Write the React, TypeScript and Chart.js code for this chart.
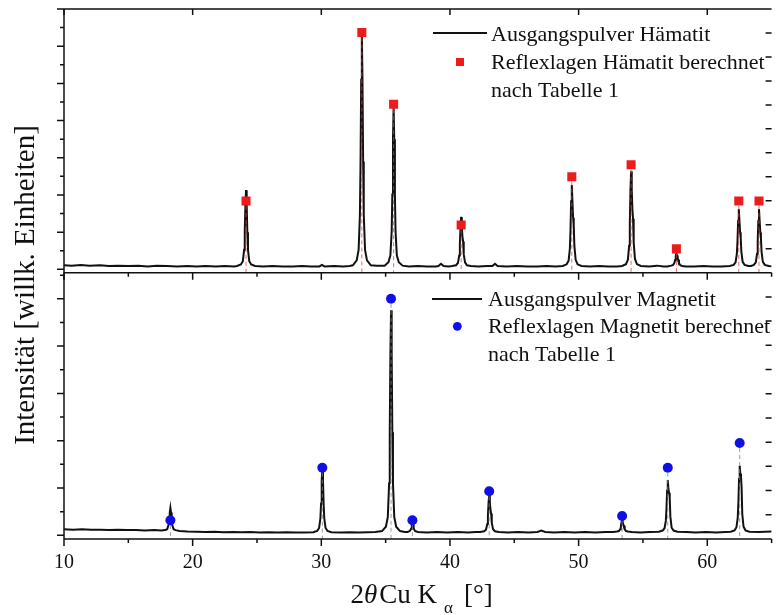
import React, { useEffect, useRef } from 'react';
import { Chart, registerables } from 'chart.js';

Chart.register(...registerables);

// ---------- data ----------
const xTickValues = [10, 20, 30, 40, 50, 60];

// measured pattern, Ausgangspulver Hämatit: [2θ, intensity]
const hematitePattern: [number, number][] = [
  [10, 0.11], [10.6, 0.10], [11.3, 0.12], [12, 0.10], [12.8, 0.11], [13.5, 0.09], [14.2, 0.10], [15, 0.09], [15.8, 0.10], [16.5, 0.08], [17.2, 0.10], [18, 0.09], [18.8, 0.08], [19.6, 0.09], [20.3, 0.08], [21, 0.09], [21.8, 0.08], [22.5, 0.09], [23.2, 0.08],
  [23.45, 0.09], [23.75, 0.13], [23.9, 0.22], [24.0, 0.53], [24.05, 1.0], [24.1, 1.72], [24.15, 2.13], [24.2, 1.72], [24.25, 1.0], [24.3, 0.53], [24.4, 0.22], [24.55, 0.13], [24.85, 0.09],
  [25.5, 0.08], [26.2, 0.09], [27, 0.08], [27.8, 0.08], [28.5, 0.09], [29.2, 0.08], [29.85, 0.08], [30.05, 0.12], [30.25, 0.08], [31, 0.09], [31.7, 0.08], [32.2, 0.09],
  [32.45, 0.11], [32.75, 0.24], [32.9, 0.52], [33.0, 1.46], [33.05, 2.9], [33.1, 5.1], [33.15, 6.35], [33.2, 5.1], [33.25, 2.9], [33.3, 1.46], [33.4, 0.52], [33.55, 0.24], [33.85, 0.11],
  [34.3, 0.10],
  [34.92, 0.10], [35.22, 0.19], [35.37, 0.38], [35.47, 1.02], [35.52, 2.01], [35.57, 3.5], [35.62, 4.36], [35.67, 3.5], [35.72, 2.01], [35.77, 1.02], [35.87, 0.38], [36.02, 0.19], [36.32, 0.10],
  [36.8, 0.08], [37.5, 0.09], [38.2, 0.08], [38.9, 0.08], [39.1, 0.09], [39.3, 0.15], [39.5, 0.09], [39.9, 0.08],
  [40.17, 0.09], [40.47, 0.11], [40.62, 0.17], [40.72, 0.37], [40.77, 0.68], [40.82, 1.14], [40.87, 1.41], [40.92, 1.14], [40.97, 0.88], [41.02, 0.75], [41.07, 0.41], [41.17, 0.19], [41.32, 0.11], [41.62, 0.09],
  [42.2, 0.08], [42.9, 0.09], [43.3, 0.09], [43.5, 0.15], [43.7, 0.09], [44.4, 0.08], [45.2, 0.09], [46, 0.08], [46.8, 0.08], [47.5, 0.09], [48.2, 0.08],
  [48.77, 0.09], [49.07, 0.135], [49.22, 0.23], [49.32, 0.56], [49.37, 1.07], [49.42, 1.83], [49.47, 2.27], [49.52, 1.83], [49.57, 1.39], [49.62, 1.18], [49.67, 0.63], [49.77, 0.255], [49.92, 0.135], [50.22, 0.09],
  [50.9, 0.08], [51.6, 0.09], [52.3, 0.08], [53.0, 0.08],
  [53.38, 0.09], [53.68, 0.14], [53.83, 0.26], [53.93, 0.64], [53.98, 1.23], [54.03, 2.13], [54.08, 2.64], [54.13, 2.13], [54.18, 1.62], [54.23, 1.36], [54.28, 0.72], [54.38, 0.28], [54.53, 0.14], [54.83, 0.09],
  [55.5, 0.08], [56.1, 0.10], [56.6, 0.08],
  [56.9, 0.08], [57.2, 0.10], [57.35, 0.12], [57.45, 0.18], [57.5, 0.25], [57.55, 0.36], [57.6, 0.43], [57.65, 0.37], [57.7, 0.30], [57.75, 0.26], [57.8, 0.17], [57.9, 0.11], [58.05, 0.09], [58.35, 0.08],
  [59, 0.08], [59.7, 0.09], [60.4, 0.08], [61.1, 0.08],
  [61.75, 0.09], [62.05, 0.12], [62.2, 0.19], [62.3, 0.42], [62.35, 0.77], [62.4, 1.31], [62.45, 1.62], [62.5, 1.31], [62.55, 1.0], [62.6, 0.85], [62.65, 0.47], [62.75, 0.2], [62.9, 0.12], [63.2, 0.09],
  [63.4, 0.09], [63.62, 0.12], [63.77, 0.19], [63.87, 0.42], [63.92, 0.77], [63.97, 1.31], [64.02, 1.62], [64.07, 1.31], [64.12, 1.0], [64.17, 0.85], [64.22, 0.47], [64.32, 0.2], [64.47, 0.12], [64.77, 0.09], [65, 0.08],
];

// calculated reflex positions, Hämatit
const hematiteRefPos = [24.15, 33.15, 35.62, 40.87, 49.47, 54.08, 57.6, 62.45, 64.02];
const hematiteRefInt = [1.84, 6.37, 4.44, 1.19, 2.49, 2.81, 0.55, 1.84, 1.84];

// measured pattern, Ausgangspulver Magnetit: [2θ, intensity]
const magnetitePattern: [number, number][] = [
  [10, 0.13], [10.7, 0.12], [11.4, 0.13], [12.1, 0.12], [12.8, 0.12], [13.5, 0.11], [14.2, 0.12], [14.9, 0.11], [15.6, 0.11], [16.3, 0.10], [17.0, 0.11],
  [17.57, 0.10], [17.87, 0.11], [18.02, 0.13], [18.12, 0.21], [18.17, 0.32], [18.22, 0.48], [18.27, 0.58], [18.32, 0.48], [18.37, 0.32], [18.42, 0.21], [18.52, 0.13], [18.67, 0.11], [18.97, 0.09],
  [19.6, 0.08], [20.3, 0.075], [21, 0.07], [21.7, 0.075], [22.4, 0.065], [23.1, 0.07], [23.8, 0.065], [24.5, 0.07], [25.2, 0.06], [25.9, 0.065], [26.6, 0.06], [27.3, 0.065], [28, 0.06], [28.7, 0.06],
  [29.38, 0.065], [29.68, 0.095], [29.83, 0.155], [29.93, 0.36], [29.98, 0.67], [30.03, 1.15], [30.08, 1.42], [30.13, 1.15], [30.18, 0.67], [30.23, 0.36], [30.33, 0.155], [30.48, 0.095], [30.78, 0.065],
  [31.5, 0.06], [32.2, 0.065], [32.9, 0.06], [33.6, 0.065], [34.2, 0.07],
  [34.72, 0.09], [35.02, 0.18], [35.17, 0.39], [35.27, 1.1], [35.32, 2.18], [35.37, 3.83], [35.42, 4.76], [35.47, 3.83], [35.52, 2.18], [35.57, 1.1], [35.67, 0.39], [35.82, 0.18], [36.12, 0.09],
  [36.5, 0.07], [36.7, 0.07], [36.88, 0.09], [36.98, 0.14], [37.03, 0.22], [37.08, 0.29], [37.13, 0.23], [37.18, 0.15], [37.28, 0.09], [37.5, 0.07],
  [38.2, 0.06], [39, 0.07], [39.8, 0.06], [40.6, 0.07], [41.4, 0.06], [42.0, 0.07],
  [42.35, 0.07], [42.65, 0.085], [42.8, 0.12], [42.9, 0.24], [42.95, 0.42], [43.0, 0.69], [43.05, 0.85], [43.1, 0.69], [43.15, 0.54], [43.2, 0.46], [43.25, 0.26], [43.35, 0.13], [43.5, 0.085], [43.8, 0.07],
  [44.5, 0.06], [45.3, 0.07], [46.1, 0.06], [46.8, 0.07], [47.1, 0.10], [47.4, 0.07], [48.1, 0.06], [48.9, 0.07], [49.7, 0.06], [50.5, 0.07], [51.3, 0.06], [52.1, 0.07],
  [52.68, 0.07], [52.98, 0.08], [53.13, 0.09], [53.23, 0.13], [53.28, 0.18], [53.33, 0.27], [53.38, 0.32], [53.43, 0.27], [53.48, 0.22], [53.53, 0.2], [53.58, 0.13], [53.68, 0.09], [53.83, 0.08], [54.13, 0.07],
  [54.8, 0.06], [55.5, 0.07],
  [56.23, 0.075], [56.53, 0.10], [56.68, 0.15], [56.78, 0.31], [56.83, 0.57], [56.88, 0.95], [56.93, 1.17], [56.98, 0.98], [57.03, 0.90], [57.08, 0.80], [57.13, 0.40], [57.23, 0.16], [57.38, 0.10], [57.68, 0.075],
  [58.4, 0.07], [59.1, 0.06], [59.9, 0.07], [60.7, 0.06], [61.4, 0.07],
  [61.82, 0.075], [62.12, 0.105], [62.27, 0.17], [62.37, 0.38], [62.42, 0.70], [62.47, 1.19], [62.52, 1.47], [62.57, 1.30], [62.62, 1.24], [62.67, 1.0], [62.72, 0.45], [62.82, 0.18], [62.97, 0.105], [63.27, 0.075],
  [64, 0.07], [65, 0.08],
];

// calculated reflex positions, Magnetit
const magnetiteRefPos = [18.27, 30.08, 35.42, 37.08, 43.05, 53.38, 56.93, 62.52];
const magnetiteRefInt = [0.32, 1.43, 5.0, 0.32, 0.93, 0.41, 1.43, 1.95];

const legendTop = ['Ausgangspulver Hämatit', 'Reflexlagen Hämatit berechnet', 'nach Tabelle 1'];
const legendBottom = ['Ausgangspulver Magnetit', 'Reflexlagen Magnetit berechnet', 'nach Tabelle 1'];
const yTitle = 'Intensität [willk. Einheiten]';

// ---------- axes / panel setup ----------
const X_MIN = 10;
const X_MAX = 65;
const TOP_MIN = -7.25;
const TOP_MAX = 7;
const TOP_SPLIT = -0.09; // lower edge of upper panel (in upper-panel units)
const BOT_MIN = -0.078;
const BOT_MAX = 11.127;
const TOP_MAJOR = [0, 1, 2, 3, 4, 5, 6, 7];
const TOP_MINOR = [0.5, 1.5, 2.5, 3.5, 4.5, 5.5, 6.5];
const BOT_MAJOR = [0, 1, 2, 3, 4, 5];
const BOT_MINOR = [0.5, 1.5, 2.5, 3.5, 4.5, 5.5];
const X_MINOR = [15, 25, 35, 45, 55, 65];

const FONT = '"Liberation Serif", "Times New Roman", serif';
const RED = '#ec1c1c';
const BLUE = '#1010e6';

const panelPlugin = {
  id: 'panelPlugin',
  afterDatasetsDraw(chart: any) {
    const { ctx, scales, chartArea } = chart;
    const xs = scales.x, yT = scales.yTop, yB = scales.yBot;
    const split = yT.getPixelForValue(TOP_SPLIT);
    ctx.save();
    ctx.lineWidth = 1;
    ctx.setLineDash([4, 3]);
    ctx.strokeStyle = 'rgba(225,60,60,0.75)';
    hematiteRefPos.forEach((p, i) => {
      const px = xs.getPixelForValue(p);
      ctx.beginPath();
      ctx.moveTo(px, yT.getPixelForValue(hematiteRefInt[i]) + 5);
      ctx.lineTo(px, split);
      ctx.stroke();
    });
    ctx.strokeStyle = 'rgba(130,130,130,0.8)';
    magnetiteRefPos.forEach((p, i) => {
      const px = xs.getPixelForValue(p);
      ctx.beginPath();
      ctx.moveTo(px, yB.getPixelForValue(magnetiteRefInt[i]) + 5);
      ctx.lineTo(px, chartArea.bottom);
      ctx.stroke();
    });
    ctx.restore();
  },
  afterDraw(chart: any) {
    const { ctx, scales, chartArea } = chart;
    const xs = scales.x, yT = scales.yTop, yB = scales.yBot;
    const L = chartArea.left, R = chartArea.right, T = chartArea.top, B = chartArea.bottom;
    const split = yT.getPixelForValue(TOP_SPLIT);
    ctx.save();
    ctx.strokeStyle = '#111';
    ctx.lineWidth = 1.5;
    ctx.setLineDash([]);
    // frames
    ctx.beginPath();
    ctx.moveTo(L, T); ctx.lineTo(R, T);
    ctx.moveTo(L, split); ctx.lineTo(R, split);
    ctx.moveTo(L, B); ctx.lineTo(R, B);
    ctx.moveTo(L, T); ctx.lineTo(L, B);
    ctx.stroke();
    ctx.beginPath();
    // x ticks
    xTickValues.forEach((v) => {
      const px = xs.getPixelForValue(v);
      ctx.moveTo(px, B); ctx.lineTo(px, B + 7);
      ctx.moveTo(px, split); ctx.lineTo(px, split + 7);
      ctx.moveTo(px, T); ctx.lineTo(px, T + 6);
    });
    X_MINOR.forEach((v) => {
      const px = xs.getPixelForValue(v);
      ctx.moveTo(px, B); ctx.lineTo(px, B + 4);
      ctx.moveTo(px, split); ctx.lineTo(px, split + 4);
    });
    // left ticks
    TOP_MAJOR.forEach((v) => { const py = yT.getPixelForValue(v); ctx.moveTo(L - 7, py); ctx.lineTo(L, py); });
    TOP_MINOR.forEach((v) => { const py = yT.getPixelForValue(v); ctx.moveTo(L - 4, py); ctx.lineTo(L, py); });
    BOT_MAJOR.forEach((v) => { const py = yB.getPixelForValue(v); ctx.moveTo(L - 7, py); ctx.lineTo(L, py); });
    BOT_MINOR.forEach((v) => { const py = yB.getPixelForValue(v); ctx.moveTo(L - 4, py); ctx.lineTo(L, py); });
    // right ticks (11 equal intervals per panel, inward)
    const splitBot = yB.getValueForPixel(split);
    for (let k = 1; k < 11; k++) {
      const vt = TOP_SPLIT + (k * (TOP_MAX - TOP_SPLIT)) / 11;
      const pt = yT.getPixelForValue(vt);
      ctx.moveTo(R - 6, pt); ctx.lineTo(R, pt);
      const vb = BOT_MIN + (k * (splitBot - BOT_MIN)) / 11;
      const pb = yB.getPixelForValue(vb);
      ctx.moveTo(R - 6, pb); ctx.lineTo(R, pb);
    }
    ctx.stroke();

    // legends
    ctx.fillStyle = '#111';
    ctx.font = `22px ${FONT}`;
    ctx.textAlign = 'left';
    ctx.textBaseline = 'alphabetic';
    ctx.lineWidth = 1.8;
    ctx.beginPath(); ctx.moveTo(433, 33); ctx.lineTo(487, 33); ctx.stroke();
    ctx.fillText(legendTop[0], 491, 40.6);
    ctx.fillText(legendTop[1], 491, 69.3);
    ctx.fillText(legendTop[2], 491, 96.8);
    ctx.fillStyle = RED;
    ctx.fillRect(456, 58, 8, 8);
    ctx.fillStyle = '#111';
    ctx.beginPath(); ctx.moveTo(432, 299); ctx.lineTo(482, 299); ctx.stroke();
    ctx.fillText(legendBottom[0], 488, 305.5);
    ctx.fillText(legendBottom[1], 488, 333);
    ctx.fillText(legendBottom[2], 488, 360.7);
    ctx.fillStyle = BLUE;
    ctx.beginPath(); ctx.arc(457.3, 326.3, 4.4, 0, Math.PI * 2); ctx.fill();

    // y title
    ctx.fillStyle = '#111';
    ctx.save();
    ctx.translate(34, 285);
    ctx.rotate(-Math.PI / 2);
    ctx.font = `29px ${FONT}`;
    ctx.textAlign = 'center';
    ctx.textBaseline = 'alphabetic';
    ctx.fillText(yTitle, 0, 0);
    ctx.restore();

    // x title: 2θ Cu K_α [°]
    let cx = 350.5;
    const by = 603;
    ctx.textAlign = 'left';
    ctx.font = `27px ${FONT}`;
    ctx.fillText('2', cx, by); cx += ctx.measureText('2').width;
    ctx.font = `italic 27px ${FONT}`;
    ctx.fillText('θ', cx, by); cx += ctx.measureText('θ').width + 2;
    ctx.font = `27px ${FONT}`;
    ctx.fillText('Cu K', cx, by); cx += ctx.measureText('Cu K').width + 7;
    ctx.font = `17px ${FONT}`;
    ctx.fillText('α', cx, by + 10); cx += ctx.measureText('α').width + 11;
    ctx.font = `27px ${FONT}`;
    ctx.fillText('[°]', cx, by);
    ctx.restore();
  },
};

export default function App() {
  const canvasRef = useRef<HTMLCanvasElement | null>(null);

  useEffect(() => {
    if (!canvasRef.current) return;
    const chart = new Chart(canvasRef.current, {
      type: 'scatter',
      data: {
        datasets: [
          {
            label: 'Reflexlagen Hämatit',
            data: hematiteRefPos.map((x, i) => ({ x, y: hematiteRefInt[i] })),
            yAxisID: 'yTop',
            pointStyle: 'rect',
            pointRadius: 6.4,
            pointBackgroundColor: RED,
            pointBorderWidth: 0,
            showLine: false,
            order: 0,
          },
          {
            label: 'Reflexlagen Magnetit',
            data: magnetiteRefPos.map((x, i) => ({ x, y: magnetiteRefInt[i] })),
            yAxisID: 'yBot',
            pointStyle: 'circle',
            pointRadius: 5,
            pointBackgroundColor: BLUE,
            pointBorderWidth: 0,
            showLine: false,
            order: 0,
          },
          {
            label: 'Ausgangspulver Hämatit',
            data: hematitePattern.map(([x, y]) => ({ x, y })),
            yAxisID: 'yTop',
            showLine: true,
            pointRadius: 0,
            borderColor: '#111',
            borderWidth: 2,
            tension: 0,
            order: 1,
          },
          {
            label: 'Ausgangspulver Magnetit',
            data: magnetitePattern.map(([x, y]) => ({ x, y })),
            yAxisID: 'yBot',
            showLine: true,
            pointRadius: 0,
            borderColor: '#111',
            borderWidth: 2,
            tension: 0,
            order: 1,
          },
        ],
      },
      options: {
        responsive: false,
        animation: false,
        devicePixelRatio: 1,
        events: [],
        layout: { padding: { top: 9, left: 64, right: 0, bottom: 0 } },
        plugins: { legend: { display: false }, tooltip: { enabled: false } },
        scales: {
          x: {
            type: 'linear',
            position: 'bottom',
            min: X_MIN,
            max: X_MAX,
            afterFit: (s: any) => { s.height = 76; },
            afterBuildTicks: (s: any) => { s.ticks = xTickValues.map((v) => ({ value: v })); },
            grid: { display: false, drawTicks: false },
            border: { display: false },
            ticks: {
              stepSize: 10,
              includeBounds: false,
              autoSkip: false,
              maxRotation: 0,
              padding: 12,
              color: '#111',
              font: { family: FONT, size: 20 },
            },
          },
          yTop: { type: 'linear', display: false, min: TOP_MIN, max: TOP_MAX },
          yBot: { type: 'linear', display: false, min: BOT_MIN, max: BOT_MAX },
        },
      } as any,
      plugins: [panelPlugin],
    });
    return () => chart.destroy();
  }, []);

  return (
    <div style={{ position: 'absolute', left: 0, top: 0, width: 778, height: 615, background: '#fff' }}>
      <canvas ref={canvasRef} width={778} height={615} style={{ width: 778, height: 615, display: 'block' }} />
    </div>
  );
}
